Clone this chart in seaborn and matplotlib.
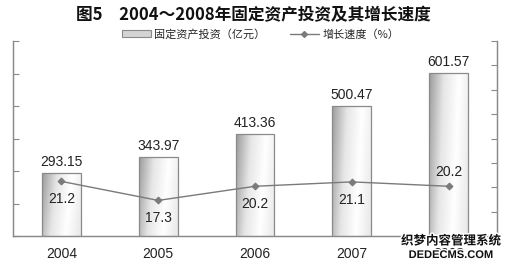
import numpy as np
import pandas as pd
import matplotlib
matplotlib.use("Agg")
import matplotlib.pyplot as plt
import matplotlib.patheffects as pe
from matplotlib.colors import LinearSegmentedColormap
from matplotlib.patches import Patch
from matplotlib.lines import Line2D
import seaborn as sns

# ─────────────── Data ───────────────
years = ["2004", "2005", "2006", "2007", "2008"]
investment = [293.15, 343.97, 413.36, 500.47, 601.57]   # 亿元
growth = [21.2, 17.3, 20.2, 21.1, 20.2]                 # %
growth_label_above = [False, False, False, False, True]

title = "图5　2004～2008年固定资产投资及其增长速度"
bar_name = "固定资产投资（亿元）"
line_name = "增长速度（%）"

df = pd.DataFrame({"year": years, "investment": investment, "growth": growth})

# ─────────────── Style ───────────────
sns.set_style("white")
plt.rcParams["font.family"] = ["Liberation Sans", "Noto Sans CJK SC", "DejaVu Sans"]
GRAY = "#8a8a8a"
TEXT = "#222222"
Y_MIN, Y_MAX = 100, 700

fig = plt.figure(figsize=(5.11, 2.67), dpi=100)
ax = fig.add_axes([13 / 511, 1 - 236 / 267, 484 / 511, 195 / 267])

# ─────────────── Bars ───────────────
sns.barplot(data=df, x="year", y="investment", ax=ax, width=0.4,
            color="#d0d0d0", edgecolor=GRAY, linewidth=0.9, zorder=2)

# gradient fill clipped to each bar
cmap = LinearSegmentedColormap.from_list("bar", ["#9c9c9c", "#e6e6e6", "#ffffff", "#e8e8e8"])
gx = np.linspace(0, 1, 64)
gy = np.linspace(0, 1, 64)
GX, GY = np.meshgrid(gx, gy)
grad = np.clip(GX * 0.85 + (1 - GY) * 0.15, 0, 1)
for patch in list(ax.patches):
    x0, y0 = patch.get_x(), patch.get_y()
    w, h = patch.get_width(), patch.get_height()
    im = ax.imshow(grad, cmap=cmap, extent=[x0, x0 + w, max(y0, Y_MIN), y0 + h],
                   origin="lower", aspect="auto", zorder=2.1)
    im.set_clip_path(patch)
    patch.set_facecolor("none")
    patch.set_zorder(2.2)
ax.set_xlim(-0.5, 4.5)
ax.set_ylim(Y_MIN, Y_MAX)

for i, v in enumerate(investment):
    ax.annotate(f"{v:.2f}", (i, v), xytext=(0, 3), textcoords="offset points",
                ha="center", va="bottom", fontsize=10, color=TEXT)

# ─────────────── Line on twin axis ───────────────
ax2 = ax.twinx()
sns.pointplot(data=df, x="year", y="growth", ax=ax2, color="#7a7a7a",
              markers="D", markersize=3.5, linewidth=1.0, errorbar=None)
ax2.set_ylim(10, 50)
ax2.set_xlim(-0.5, 4.5)

for i, v in enumerate(growth):
    dy = 10 if growth_label_above[i] else -13
    ax2.annotate(f"{v:.1f}", (i, v), xytext=(0, dy), textcoords="offset points",
                 ha="center", va="center", fontsize=10, color=TEXT)

# ─────────────── Axes ───────────────
ax.set_yticks(np.arange(Y_MIN, Y_MAX + 1, 100))
ax.set_yticklabels([])
ax2.set_yticks(np.arange(10, 51, 5))
ax2.set_yticklabels([])
for a in (ax, ax2):
    a.set_xlabel("")
    a.set_ylabel("")
ax.set_xticks(range(len(years)))
ax.set_xticklabels(years, fontsize=10, color=TEXT)
ax.set_xticks([0.5, 1.5, 2.5, 3.5], minor=True)
ax.tick_params(axis="x", which="major", length=0, pad=8, labelbottom=True)
ax.tick_params(axis="x", which="minor", direction="in", length=3, color=GRAY, width=0.8)
ax.tick_params(axis="y", direction="in", length=4, color=GRAY, width=0.8, left=True)
ax2.tick_params(axis="y", direction="in", length=4, color=GRAY, width=0.8, right=True)
ax2.tick_params(axis="x", which="both", length=0, labelbottom=False)

for a in (ax, ax2):
    for side in ("left", "right", "bottom"):
        a.spines[side].set_color(GRAY)
        a.spines[side].set_linewidth(0.9)
    a.spines["top"].set_visible(False)
    a.grid(False)

# ─────────────── Title & legend ───────────────
fig.text(0.495, 1 - 15 / 267, title, ha="center", va="center",
         fontsize=12, fontweight="bold", color="#111111",
         family=["Noto Sans CJK SC", "DejaVu Sans"])

handles = [Patch(facecolor="#d4d4d4", edgecolor=GRAY, linewidth=0.8),
           Line2D([0], [0], color="#7a7a7a", marker="D", markersize=3, lw=1.0)]
fig.legend(handles, [bar_name, line_name], loc="center", ncol=2,
           bbox_to_anchor=(0.51, 1 - 34 / 267), frameon=False,
           prop={"family": ["Noto Sans CJK SC"], "size": 8},
           handlelength=2.6, handleheight=0.6, columnspacing=2.2, handletextpad=0.3)

# watermark
wm_fx = [pe.withStroke(linewidth=2, foreground="white")]
fig.text(451 / 511, 1 - 241 / 267, "织梦内容管理系统", ha="center", va="center",
         fontsize=9, fontweight="bold", color="#111111",
         family=["Noto Sans CJK SC"], path_effects=wm_fx)
fig.text(451 / 511, 1 - 255 / 267, "DEDECMS.COM", ha="center", va="center",
         fontsize=8, fontweight="bold", color="#111111", path_effects=wm_fx)

fig.savefig("out.png", dpi=100)
